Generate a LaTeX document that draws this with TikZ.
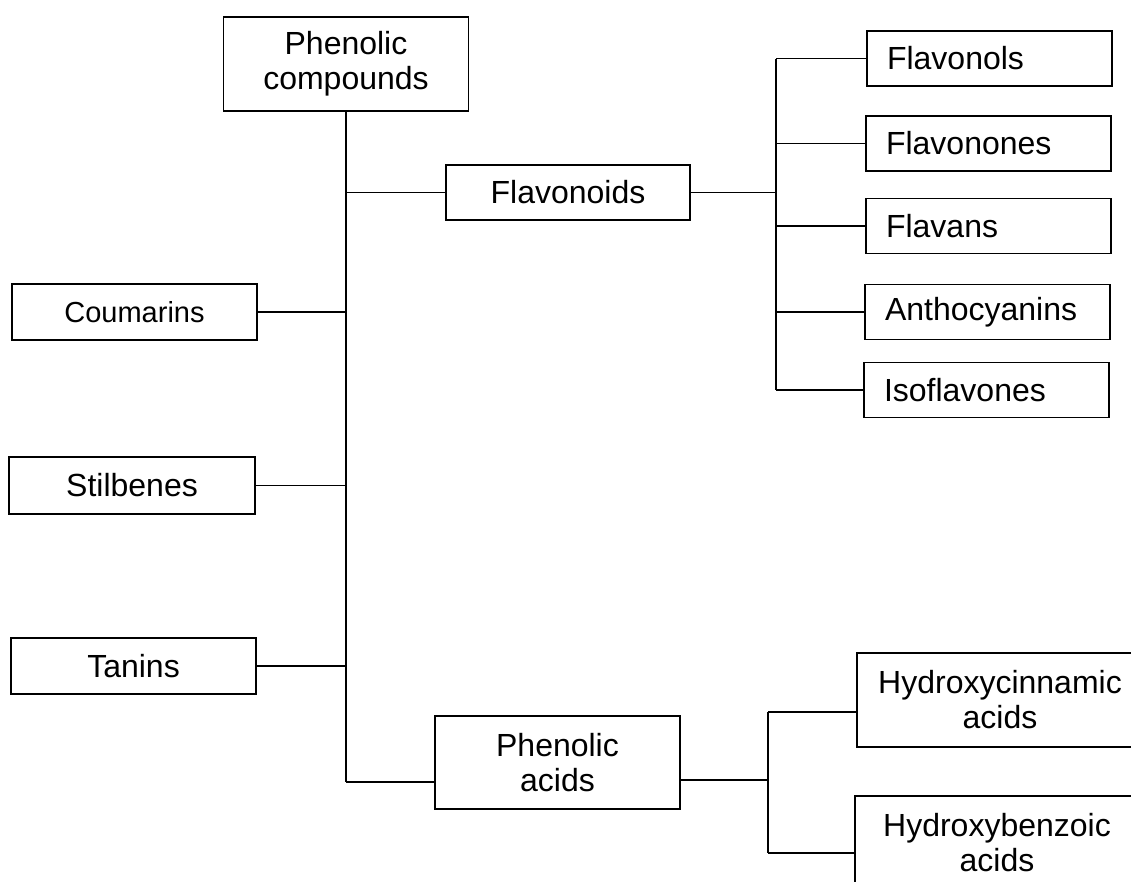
\documentclass[tikz,border=0pt]{standalone}
\usepackage{fontspec}
\setmainfont{Liberation Sans}
\begin{document}
\begin{tikzpicture}[x=1pt,y=-1pt,
  box/.style={draw, line width=1.5pt, inner sep=0pt, align=center,
    font=\fontsize{32}{35}\selectfont},
  leaf/.style={draw, line width=1.5pt, inner xsep=20pt, inner ysep=0pt,
    text width=205pt, minimum height=55pt, align=left,
    font=\fontsize{32}{35}\selectfont},
  link/.style={line width=1.1pt},
  trunk/.style={line width=2pt}]
\useasboundingbox (0,0) rectangle (1131,881);

% root and first-level classes
\node[box, minimum width=245pt, minimum height=94pt] (pc) at (346,64) {Phenolic\\compounds};
\node[box, minimum width=244pt, minimum height=55pt] (flavonoids) at (568,192.5) {Flavonoids};
\node[box, minimum width=245pt, minimum height=56pt, font=\fontsize{29}{32}\selectfont] (coumarins) at (134.5,312) {Coumarins};
\node[box, minimum width=246pt, minimum height=57pt] (stilbenes) at (132,485.5) {Stilbenes};
\node[box, minimum width=245pt, minimum height=56pt] (tanins) at (133.5,666) {Tanins};
\node[box, minimum width=245pt, minimum height=93pt] (pacids) at (557.5,762.5) {Phenolic\\acids};

% flavonoid subclasses
\node[leaf] (flavonols) at (989.5,58.5) {Flavonols};
\node[leaf] (flavonones) at (988.5,143.5) {Flavonones};
\node[leaf] (flavans) at (988.5,226) {Flavans};
\node[leaf] (antho) at (987.5,312) {Anthocyanins};
\node[leaf] (iso) at (986.5,390) {Isoflavones};

% phenolic acid subclasses
\node[box, minimum width=286pt, minimum height=94pt] (hcin) at (1000,700) {Hydroxycinnamic\\acids};
\node[box, minimum width=284pt, minimum height=94pt] (hbenz) at (997,843) {Hydroxybenzoic\\acids};

% main trunk
\coordinate (pa-in) at ([yshift=-19.5pt]pacids.west);
\draw[trunk] (pc.south) -- (pc.south |- pa-in);
\draw[link] (pc.south |- pa-in) -- (pa-in);
\draw[link] (pc.south |- flavonoids.west) -- (flavonoids.west);
\foreach \n in {coumarins,stilbenes,tanins}
  \draw[link] (\n.east) -- (\n.east -| pc.south);

% flavonoid branch
\coordinate (fv) at (776,0);
\draw[link] (flavonoids.east) -- (flavonoids.east -| fv);
\draw[trunk] (flavonols.west -| fv) -- (iso.west -| fv);
\foreach \n in {flavonols,flavonones,flavans,antho,iso}
  \draw[link] (\n.west -| fv) -- (\n.west);

% phenolic acid branch
\coordinate (pv) at (768,0);
\coordinate (pa-out) at ([yshift=-17.5pt]pacids.east);
\coordinate (hc-in) at ([yshift=-12pt]hcin.west);
\coordinate (hb-in) at ([yshift=-10pt]hbenz.west);
\draw[link] (pa-out) -- (pa-out -| pv);
\draw[line width=1.3pt] (hc-in -| pv) -- (hb-in -| pv);
\draw[link] (hc-in -| pv) -- (hc-in);
\draw[link] (hb-in -| pv) -- (hb-in);
\end{tikzpicture}
\end{document}
